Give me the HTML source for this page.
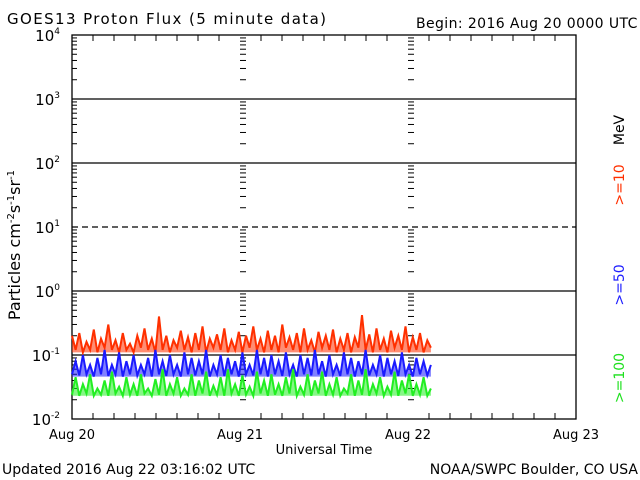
<!DOCTYPE html>
<html><head><meta charset="utf-8"><style>
body{margin:0;background:#fff}
svg{display:block;font-family:"DejaVu Sans","Liberation Sans",sans-serif}
</style></head><body>
<svg id="chart" width="640" height="480" viewBox="0 0 640 480" xmlns="http://www.w3.org/2000/svg">
<rect width="640" height="480" fill="#fff"/>
<text x="7" y="24" font-size="15" letter-spacing="1.4">GOES13 Proton Flux (5 minute data)</text>
<text x="416" y="28" font-size="14" letter-spacing="0.4">Begin: 2016 Aug 20 0000 UTC</text>
<text transform="translate(20,245) rotate(-90)" text-anchor="middle" font-size="16">Particles cm<tspan dy="-6" font-size="10">-2</tspan><tspan dy="6">s</tspan><tspan dy="-6" font-size="10">-1</tspan><tspan dy="6">sr</tspan><tspan dy="-6" font-size="10">-1</tspan></text>
<text transform="translate(624,130) rotate(-90)" text-anchor="middle" font-size="14">MeV</text>
<text transform="translate(624,185) rotate(-90)" text-anchor="middle" font-size="14" fill="#ff3000">&gt;=10</text>
<text transform="translate(624,285) rotate(-90)" text-anchor="middle" font-size="14" fill="#2020ff">&gt;=50</text>
<text transform="translate(624,378) rotate(-90)" text-anchor="middle" font-size="14" fill="#20e020">&gt;=100</text>
<text x="324" y="454" text-anchor="middle" font-size="13">Universal Time</text>
<text x="2" y="474" font-size="14">Updated 2016 Aug 22 03:16:02 UTC</text>
<text x="638" y="474" text-anchor="end" font-size="14">NOAA/SWPC Boulder, CO USA</text>
<g id="g"></g>
</svg>
<script>
const days=["Aug 20","Aug 21","Aug 22","Aug 23"];
const decades=[-2,-1,0,1,2,3,4];
const endHours=51.27;
const red=[0.2,0.12,0.22,0.11,0.16,0.12,0.25,0.11,0.18,0.13,0.3,0.12,0.17,0.11,0.22,0.12,0.15,0.11,0.2,0.13,0.26,0.12,0.18,0.11,0.4,0.12,0.2,0.11,0.17,0.13,0.24,0.12,0.19,0.11,0.22,0.12,0.28,0.11,0.18,0.13,0.21,0.12,0.26,0.11,0.17,0.12,0.23,0.11,0.2,0.13,0.28,0.12,0.18,0.11,0.24,0.12,0.2,0.11,0.3,0.13,0.19,0.12,0.22,0.11,0.26,0.12,0.17,0.11,0.23,0.13,0.2,0.12,0.25,0.11,0.18,0.12,0.22,0.11,0.19,0.13,0.42,0.12,0.21,0.11,0.26,0.12,0.18,0.11,0.24,0.13,0.2,0.12,0.28,0.11,0.19,0.12,0.22,0.11,0.17,0.13];
const blue=[0.05,0.08,0.048,0.1,0.05,0.07,0.046,0.09,0.05,0.12,0.047,0.07,0.05,0.11,0.046,0.08,0.05,0.1,0.048,0.07,0.05,0.09,0.046,0.12,0.05,0.08,0.047,0.1,0.05,0.07,0.046,0.11,0.05,0.09,0.048,0.08,0.05,0.12,0.046,0.07,0.05,0.1,0.047,0.09,0.05,0.08,0.046,0.11,0.05,0.07,0.048,0.12,0.05,0.09,0.046,0.1,0.05,0.08,0.047,0.11,0.05,0.07,0.046,0.1,0.05,0.09,0.048,0.12,0.05,0.08,0.046,0.1,0.05,0.07,0.047,0.11,0.05,0.09,0.046,0.08,0.05,0.12,0.048,0.07,0.05,0.1,0.046,0.09,0.05,0.08,0.047,0.11,0.05,0.07,0.046,0.09,0.05,0.08,0.048,0.07];
const green=[0.024,0.045,0.023,0.035,0.025,0.05,0.023,0.03,0.024,0.04,0.023,0.055,0.025,0.032,0.023,0.045,0.024,0.035,0.023,0.05,0.025,0.03,0.023,0.042,0.024,0.06,0.023,0.035,0.025,0.045,0.023,0.03,0.024,0.05,0.023,0.04,0.025,0.055,0.023,0.033,0.024,0.045,0.023,0.06,0.025,0.035,0.023,0.048,0.024,0.032,0.023,0.055,0.025,0.04,0.023,0.05,0.024,0.035,0.023,0.045,0.025,0.06,0.023,0.032,0.024,0.05,0.023,0.04,0.025,0.055,0.023,0.035,0.024,0.045,0.023,0.03,0.025,0.05,0.023,0.04,0.024,0.06,0.023,0.035,0.025,0.045,0.023,0.032,0.024,0.055,0.023,0.04,0.025,0.05,0.023,0.035,0.024,0.045,0.023,0.03];
const X0=72,X1=576,Y0=419,Y1=35;
function xs(h){return X0+(X1-X0)*h/72;}
function ys(v){return Y0-(Math.log10(v)+2)*(Y0-Y1)/6;}
const g=document.getElementById('g');
const NS="http://www.w3.org/2000/svg";
function el(t,a){const e=document.createElementNS(NS,t);for(const k in a)e.setAttribute(k,a[k]);g.appendChild(e);return e;}
decades.forEach(d=>{
 if(d===-2||d===4)return;
 const y=ys(Math.pow(10,d));
 const l=el('line',{x1:X0,x2:X1,y1:y,y2:y,stroke:'#000','stroke-width':1.3});
 if(d===1)l.setAttribute('stroke-dasharray','6,4');
 
 
});
[0,24,48].forEach(h=>{
 const x=xs(h);
 for(let d=-2;d<4;d++){
  for(let m=2;m<=9;m++){
   const y=ys(m*Math.pow(10,d));
   const t=el('line',{x1:x,x2:x+(h===0?5:6),y1:y,y2:y,stroke:'#000','stroke-width':1});
   
   
  }
 }
});
for(let h=0;h<=72;h+=3){
 const x=xs(h);const L=h%24===0?0:6;
 if(L){
 const a=el('line',{x1:x,x2:x,y1:Y1,y2:Y1+L,stroke:'#000'});
 
 
 const b=el('line',{x1:x,x2:x,y1:Y0,y2:Y0-L,stroke:'#000'});
 
 }
}
const fr=el('rect',{x:X0,y:Y1,width:X1-X0,height:Y0-Y1,fill:'none',stroke:'#000','stroke-width':1.3});


decades.forEach(d=>{
 const t=el('text',{x:60,y:ys(Math.pow(10,d))+6,'text-anchor':'end','font-size':15});
 t.textContent='10';
 const s=document.createElementNS(NS,'tspan');s.setAttribute('dy','-7');s.setAttribute('font-size','9');s.textContent=String(d);t.appendChild(s);
 
 
});
days.forEach((d,i)=>{
 const t=el('text',{x:xs(i*24),y:439,'text-anchor':'middle','font-size':13});
 t.textContent=d;
 
 
});
function series(arr,color,name){
 const n=arr.length;
 const floor=Math.min(...arr);
 const xy=arr.map((v,i)=>[xs(i*endHours/(n-1)),ys(v)]);
 const pts=xy.map(p=>p[0].toFixed(1)+','+p[1].toFixed(1)).join(' ');
 const area=pts+' '+xy[n-1][0].toFixed(1)+','+ys(floor).toFixed(1)+' '+xy[0][0].toFixed(1)+','+ys(floor).toFixed(1);
 const a=el('polygon',{points:area,fill:color,'fill-opacity':0.55});
 
 
 const p=el('polyline',{points:pts,fill:'none',stroke:color,'stroke-width':2});
 
 
}
series(red,'#ff3000','series-ge10');
series(blue,'#1a1aff','series-ge50');
series(green,'#22ee22','series-ge100');
</script>
</body></html>
